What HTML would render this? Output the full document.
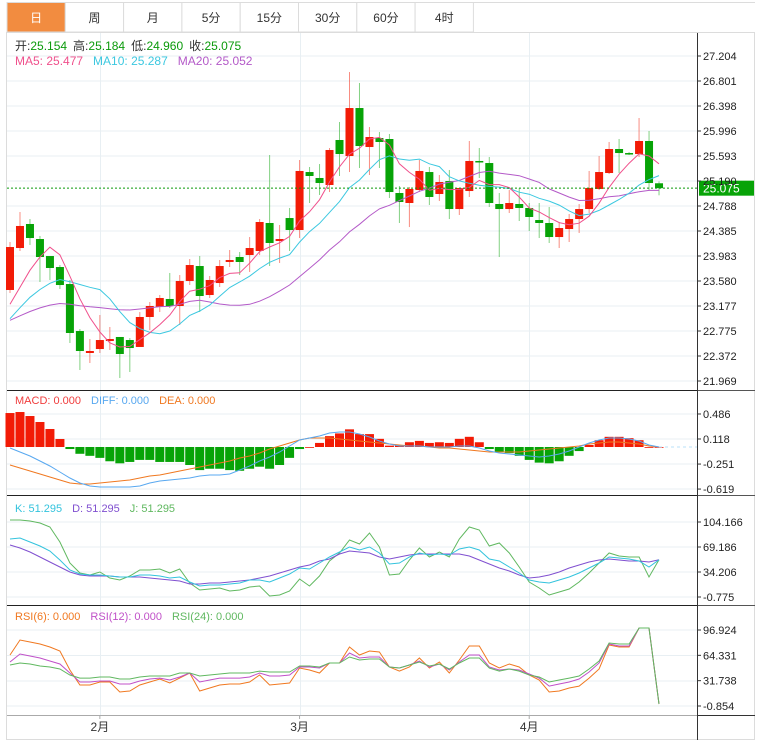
<!DOCTYPE html>
<html><head><meta charset="utf-8">
<style>
body{margin:0;background:#fff;width:763px;height:749px;overflow:hidden;font-family:"Liberation Sans","Noto Sans CJK SC",sans-serif;}
svg{position:absolute;left:0;top:0}
</style></head>
<body>
<svg id="chart" width="763" height="749" xmlns="http://www.w3.org/2000/svg" font-family="Liberation Sans, Noto Sans CJK SC, sans-serif">
  <g id="tabs"></g>
  <rect x="6.5" y="32.5" width="748" height="707" fill="none" stroke="#dcdcdc"/>
  <g id="grid"></g>
  <g id="marks"></g>
  <g id="axes"></g>
  <g font-size="12">
    <text x="15" y="50"><tspan fill="#333">开:</tspan><tspan fill="#0a9a0a">25.154</tspan><tspan fill="#333" dx="6">高:</tspan><tspan fill="#0a9a0a">25.184</tspan><tspan fill="#333" dx="6">低:</tspan><tspan fill="#0a9a0a">24.960</tspan><tspan fill="#333" dx="6">收:</tspan><tspan fill="#0a9a0a">25.075</tspan></text>
    <text x="15" y="65"><tspan fill="#f0508c">MA5: 25.477</tspan><tspan fill="#3cc8e0" dx="10">MA10: 25.287</tspan><tspan fill="#b45ac8" dx="10">MA20: 25.052</tspan></text>
  </g>
  <g font-size="11">
    <text x="15" y="404"><tspan fill="#f03c3c">MACD: 0.000</tspan><tspan fill="#58a8f0" dx="10">DIFF: 0.000</tspan><tspan fill="#f07820" dx="10">DEA: 0.000</tspan></text>
  </g>
  <g font-size="11">
    <text x="15" y="512"><tspan fill="#33c3dd">K: 51.295</tspan><tspan fill="#8050d0" dx="10">D: 51.295</tspan><tspan fill="#60b860" dx="10">J: 51.295</tspan></text>
  </g>
  <g font-size="11">
    <text x="15" y="620"><tspan fill="#f07820">RSI(6): 0.000</tspan><tspan fill="#c050c8" dx="10">RSI(12): 0.000</tspan><tspan fill="#60b860" dx="10">RSI(24): 0.000</tspan></text>
  </g>
</svg>
<script>
const tabLabels=["日","周","月","5分","15分","30分","60分","4时"];
const openP=[23.435,24.111,24.498,24.256,23.982,23.805,23.531,22.774,22.420,22.484,22.613,22.678,22.629,22.517,23.000,23.161,23.290,23.177,23.580,23.821,23.354,23.547,23.886,23.966,23.998,24.063,24.514,24.224,24.594,24.401,25.335,25.239,25.126,25.851,25.593,26.366,25.738,25.883,25.867,24.997,24.836,25.045,25.335,24.981,25.190,24.739,25.029,25.513,25.480,24.820,24.739,24.820,24.756,24.562,24.514,24.288,24.417,24.578,24.739,25.062,25.319,25.706,25.641,25.625,25.835,25.154];
const highP=[24.208,24.691,24.578,24.305,23.982,23.837,23.596,22.806,22.645,23.032,22.839,22.678,22.661,23.080,23.241,23.354,23.709,23.676,23.934,23.982,23.660,23.918,24.079,24.047,24.288,24.578,25.609,24.482,24.756,25.529,25.416,25.464,25.722,26.141,26.946,26.769,26.060,25.980,25.948,25.110,25.094,25.529,25.416,25.287,25.368,25.078,25.835,25.722,25.577,24.997,25.045,25.078,24.836,24.836,24.772,24.530,24.659,24.820,25.352,25.593,25.819,25.867,25.658,26.205,25.996,25.184];
const lowP=[23.386,24.063,24.160,23.564,23.596,23.451,22.581,22.146,22.259,22.420,22.468,22.017,22.114,22.517,22.790,23.080,23.145,22.871,23.515,23.080,23.306,23.483,23.805,23.676,23.725,23.998,23.821,23.870,24.063,24.272,24.836,24.965,25.013,25.271,25.335,25.400,25.287,25.400,24.917,24.514,24.449,25.013,24.804,24.868,24.578,24.643,24.933,25.239,24.772,23.966,24.675,24.546,24.385,24.272,24.192,24.111,24.208,24.353,24.675,25.045,25.303,25.319,25.609,25.577,25.045,24.960];
const closeP=[24.127,24.466,24.272,23.966,23.789,23.515,22.742,22.452,22.452,22.629,22.645,22.404,22.500,23.000,23.177,23.306,23.177,23.580,23.837,23.338,23.596,23.821,23.918,23.886,24.111,24.530,24.192,24.256,24.401,25.352,25.271,25.158,25.690,25.625,26.366,25.754,25.899,25.819,25.013,24.852,25.062,25.352,24.933,25.174,24.739,25.078,25.513,25.497,24.836,24.739,24.836,24.756,24.611,24.514,24.288,24.433,24.578,24.739,25.078,25.335,25.706,25.641,25.625,25.835,25.158,25.075];
const prevCloses=[23.0,22.9,22.8,22.9,23.0,23.0,22.9,22.8,22.9,23.0,22.7,22.6,22.7,22.8,22.9,23.1,22.9,22.9,23.0];
const priceTicks=["27.204","26.801","26.398","25.996","25.593","25.190","24.788","24.385","23.983","23.580","23.177","22.775","22.372","21.969"];
const macdHist=[0.50,0.515,0.456,0.368,0.265,0.118,-0.03,-0.10,-0.13,-0.16,-0.21,-0.24,-0.22,-0.19,-0.19,-0.22,-0.22,-0.22,-0.265,-0.34,-0.32,-0.32,-0.34,-0.35,-0.32,-0.29,-0.32,-0.265,-0.16,-0.03,0.0,0.06,0.16,0.2,0.26,0.19,0.19,0.12,0.02,0.03,0.07,0.09,0.06,0.07,0.06,0.12,0.15,0.07,-0.03,-0.07,-0.09,-0.13,-0.19,-0.23,-0.24,-0.21,-0.13,-0.06,0.03,0.1,0.15,0.15,0.13,0.1,0.0,0.0];
const difVals=[-0.015,-0.074,-0.132,-0.206,-0.280,-0.368,-0.456,-0.530,-0.574,-0.589,-0.589,-0.589,-0.589,-0.574,-0.530,-0.500,-0.486,-0.471,-0.456,-0.427,-0.412,-0.412,-0.397,-0.339,-0.280,-0.206,-0.147,-0.074,0.015,0.103,0.132,0.162,0.206,0.221,0.221,0.191,0.147,0.088,0.044,0.015,0.015,0.015,0,0,0,0.015,0.015,-0.015,-0.059,-0.088,-0.103,-0.118,-0.132,-0.147,-0.132,-0.103,-0.059,0,0.059,0.103,0.132,0.132,0.118,0.088,0.029,0];
const deaVals=[-0.265,-0.309,-0.353,-0.397,-0.442,-0.486,-0.530,-0.544,-0.544,-0.530,-0.515,-0.500,-0.486,-0.456,-0.427,-0.412,-0.383,-0.353,-0.324,-0.294,-0.265,-0.236,-0.206,-0.162,-0.132,-0.088,-0.029,0.015,0.059,0.103,0.132,0.132,0.132,0.118,0.103,0.088,0.074,0.059,0.044,0.029,0.015,0.015,0,-0.015,-0.015,-0.029,-0.044,-0.059,-0.074,-0.074,-0.074,-0.074,-0.059,-0.044,-0.029,-0.015,0,0.015,0.044,0.059,0.074,0.074,0.059,0.044,0.015,0];
const macdTicks=["0.486","0.118","-0.251","-0.619"];
const kVals=[80.4,81.8,76.2,70.6,63.6,51.0,37.0,31.4,30.0,30.0,28.6,27.2,27.2,30.0,30.0,28.6,25.8,27.2,20.2,14.6,16.0,16.0,17.4,18.8,23.0,23.0,20.2,25.8,31.4,39.8,38.4,46.8,55.2,62.2,69.2,65.0,69.2,60.8,45.4,46.8,55.2,60.8,58.0,59.4,58.0,66.4,69.2,65.0,52.4,49.6,41.2,32.8,23.0,20.2,18.8,23.0,27.2,32.8,39.8,46.8,55.2,53.8,52.4,49.6,41.2,51.3];
const dVals=[72.0,67.8,62.2,55.2,48.2,41.2,34.2,30.0,28.6,28.6,28.6,27.2,27.2,27.2,25.8,24.4,23.0,21.6,17.4,17.4,18.8,18.8,20.2,21.6,23.0,25.8,28.6,32.8,37.0,41.2,44.0,49.6,52.4,59.4,63.6,62.2,60.8,55.2,52.4,55.2,58.0,59.4,59.4,59.4,59.4,59.4,56.6,51.0,45.4,39.8,35.6,30.0,25.8,27.2,30.0,34.2,39.8,44.0,48.2,51.0,52.4,51.0,49.6,49.6,48.2,51.3];
const jVals=[107.0,107.0,105.6,102.8,97.2,76.2,46.8,32.8,30.0,34.2,25.8,23.0,28.6,37.0,37.0,38.4,32.8,38.4,18.8,9.0,10.4,11.8,7.6,9.0,13.2,14.6,0.6,2.0,7.6,24.4,14.6,28.6,49.6,60.8,79.0,73.4,88.8,69.2,30.0,31.4,51.0,67.8,55.2,62.2,55.2,80.4,97.2,93.0,70.6,74.8,60.8,41.2,20.2,11.8,2.0,6.2,10.4,20.2,32.8,46.8,60.8,56.6,55.2,55.2,27.2,51.3];
const kdjTicks=["104.166","69.186","34.206","-0.775"];
const rsi6=[64.7,84.1,81.5,78.9,75.0,69.9,45.4,26.1,26.1,30.0,30.0,17.1,18.4,26.1,30.0,33.9,28.7,35.1,41.6,18.4,22.3,26.1,27.4,27.4,30.0,39.0,26.1,27.4,28.7,48.0,45.4,41.6,54.5,54.5,75.0,64.7,69.9,68.6,49.3,44.1,49.3,60.9,48.0,55.7,41.6,58.3,76.3,76.3,54.5,48.0,53.2,49.3,39.0,32.6,17.1,18.4,22.3,24.8,35.1,46.7,77.6,75.0,75.0,99.5,99.5,1.7];
const rsi12=[55.7,66.0,63.5,60.9,57.0,53.2,41.6,30.0,30.0,31.3,31.3,27.4,27.4,31.3,33.9,35.1,32.6,36.4,41.6,30.0,32.6,35.1,35.1,35.1,36.4,41.6,37.7,37.7,39.0,49.3,49.3,48.0,54.5,54.5,67.3,60.9,62.2,62.2,49.3,48.0,51.9,57.0,49.3,53.2,45.4,55.7,64.7,64.7,49.3,45.4,46.7,45.4,40.3,35.1,24.8,27.4,30.0,33.9,42.9,54.5,78.9,76.3,76.3,99.5,99.5,1.7];
const rsi24=[51.9,54.5,53.2,50.6,49.3,46.7,39.0,35.1,35.1,36.4,36.4,33.9,33.9,36.4,37.7,37.7,37.7,41.6,41.6,37.7,39.0,40.3,41.6,41.6,41.6,44.1,42.9,42.9,42.9,50.6,50.6,49.3,54.5,54.5,62.2,58.3,59.6,59.6,49.3,48.0,51.9,55.7,50.6,53.2,46.7,54.5,60.9,60.9,48.0,44.1,46.7,44.1,39.0,36.4,30.0,32.6,35.1,37.7,46.7,57.0,80.2,78.9,78.9,99.5,99.5,1.7];
const rsiTicks=["96.924","64.331","31.738","-0.854"];
const monthLabels=["2月","3月","4月"];
const monthIdx=[9,29,52];

const NS="http://www.w3.org/2000/svg";
function mk(tag,attrs,parent){const e=document.createElementNS(NS,tag);for(const k in attrs)e.setAttribute(k,attrs[k]);parent.appendChild(e);return e;}
const gTabs=document.getElementById('tabs'),gGrid=document.getElementById('grid'),gMarks=document.getElementById('marks'),gAxes=document.getElementById('axes');
const RED="#f21b06",GREEN="#07a307";
const xOf=i=>10+i*9.985;
const yPrice=v=>56+(27.204-v)/0.016108;
const yMacd=v=>447-v/0.01472;
const yKdj=v=>547-(v-69.186)/1.3992;
const yRsi=v=>630+(96.924-v)/1.2866;

// tabs
mk('line',{x1:7,y1:2.5,x2:755,y2:2.5,stroke:"#dcdcdc"},gTabs);
tabLabels.forEach((t,i)=>{
  const x=7+i*58.3;
  const r=mk('rect',{x:x,y:2.5,width:58.3,height:29.5,fill:i===0?"#f28c40":"#fff",stroke:"#dcdcdc"},gTabs);
  
  
  const tx=mk('text',{x:x+29.15,y:22,"text-anchor":"middle","font-size":"12",fill:i===0?"#fff":"#333"},gTabs);
  tx.textContent=t;
  
  
});

// grid lines
const gridColor="#e8eff3";
const hLines=[];
priceTicks.forEach((t,k)=>hLines.push(56+k*25));
hLines.push(414,439,464,489,522,547,572,597,630,655.5,681,706);
hLines.forEach(y=>mk('line',{x1:7,y1:y,x2:697,y2:y,stroke:gridColor},gGrid));
monthIdx.forEach(i=>mk('line',{x1:Math.round(xOf(i))+0.5,y1:33,x2:Math.round(xOf(i))+0.5,y2:715,stroke:gridColor},gGrid));

// panel separators and axes
[390,495,605].forEach(y=>{mk('line',{x1:7,y1:y+0.5,x2:697,y2:y+0.5,stroke:"#222"},gAxes);mk('line',{x1:697,y1:y+0.5,x2:755,y2:y+0.5,stroke:"#555"},gAxes);});
mk('line',{x1:697.5,y1:33,x2:697.5,y2:740,stroke:"#333"},gAxes);
mk('line',{x1:7,y1:715.5,x2:697,y2:715.5,stroke:"#aaa"},gAxes);
mk('line',{x1:697,y1:715.5,x2:755,y2:715.5,stroke:"#333"},gAxes);
function ticks(labels,yfn){labels.forEach((t,k)=>{const y=yfn(k);mk('line',{x1:697,y1:y,x2:701,y2:y,stroke:"#333"},gAxes);const tx=mk('text',{x:703,y:y+4,"font-size":"11",fill:"#222"},gAxes);tx.textContent=t;});}
ticks(priceTicks,k=>56+k*25);
ticks(macdTicks,k=>yMacd(parseFloat(macdTicks[k])));
ticks(kdjTicks,k=>yKdj(parseFloat(kdjTicks[k])));
ticks(rsiTicks,k=>yRsi(parseFloat(rsiTicks[k])));
monthLabels.forEach((m,k)=>{const x=xOf(monthIdx[k]);mk('line',{x1:x,y1:715,x2:x,y2:719,stroke:"#aaa"},gAxes);const t=mk('text',{x:x,y:731,"text-anchor":"middle","font-size":"12",fill:"#333"},gAxes);t.textContent=m;});

// candles
for(let i=0;i<closeP.length;i++){
  const up=closeP[i]>=openP[i],c=up?RED:GREEN,x=xOf(i);
  const w=mk('line',{x1:x,y1:yPrice(highP[i]),x2:x,y2:yPrice(lowP[i]),stroke:c,"stroke-opacity":"0.5"},gMarks);
  
  
  const t=Math.min(yPrice(openP[i]),yPrice(closeP[i])),b=Math.max(yPrice(openP[i]),yPrice(closeP[i]));
  const r=mk('rect',{x:x-4,y:t,width:8,height:Math.max(1.5,b-t),fill:c},gMarks);
  
  
}
function ma(n){const all=prevCloses.concat(closeP),off=prevCloses.length;return closeP.map((_,i)=>{let s=0,c=0;for(let j=Math.max(0,i+off-n+1);j<=i+off;j++){s+=all[j];c++;}return s/c;});}
function poly(vals,yfn,color,name){const p=vals.map((v,i)=>xOf(i).toFixed(1)+","+yfn(v).toFixed(1)).join(" ");const e=mk('polyline',{points:p,fill:"none",stroke:color,"stroke-width":"1"},gMarks);}
poly(ma(20),yPrice,"#b45ac8","ma20-line");
poly(ma(10),yPrice,"#3cc8e0","ma10-line");
poly(ma(5),yPrice,"#f0508c","ma5-line");
// last price line
const last=closeP[closeP.length-1],ly=yPrice(last);
mk('line',{x1:7,y1:ly,x2:697,y2:ly,stroke:"#0a9a0a","stroke-dasharray":"2,2"},gMarks);
const lb=mk('rect',{x:699,y:ly-7.5,width:55,height:15,fill:GREEN},gMarks);


const lt=mk('text',{x:703,y:ly+4.5,"font-size":"12",fill:"#fff"},gMarks);lt.textContent=last.toFixed(3);

// MACD
macdHist.forEach((v,i)=>{const x=xOf(i),y0=yMacd(0),y1=yMacd(v);
  const r=mk('rect',{x:x-4.5,y:Math.min(y0,y1),width:9,height:Math.max(0.8,Math.abs(y1-y0)),fill:v>=0?RED:GREEN},gMarks);
  
  
});
mk('line',{x1:xOf(65),y1:yMacd(0),x2:697,y2:yMacd(0),stroke:"#b8e0f8","stroke-dasharray":"3,3"},gMarks);
poly(deaVals,yMacd,"#f07820","dea-line");
poly(difVals,yMacd,"#58a8f0","dif-line");
// KDJ
poly(jVals,yKdj,"#60b860","j-line");
poly(dVals,yKdj,"#8050d0","d-line");
poly(kVals,yKdj,"#33c3dd","k-line");
// RSI
poly(rsi6,yRsi,"#f07820","rsi6-line");
poly(rsi12,yRsi,"#c050c8","rsi12-line");
poly(rsi24,yRsi,"#60b860","rsi24-line");
</script>
</body></html>
